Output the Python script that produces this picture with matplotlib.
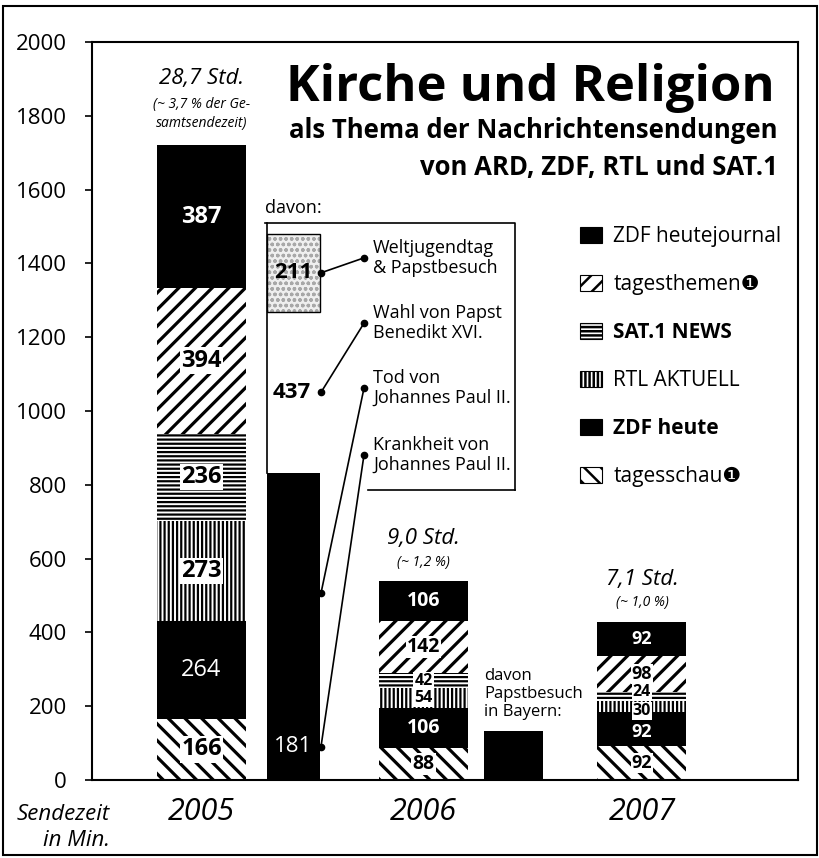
import numpy as np
import matplotlib
matplotlib.use('Agg')
import matplotlib.pyplot as plt
from matplotlib.patches import Rectangle

plt.rcParams['font.family'] = ['Open Sans', 'DejaVu Sans']
plt.rcParams['hatch.linewidth'] = 1.8

# Sendezeit in Minuten, von unten nach oben gestapelt
sendungen = ['tagesschau❶', 'ZDF heute', 'RTL AKTUELL', 'SAT.1 NEWS', 'tagesthemen❶', 'ZDF heutejournal']
jahre = ['2005', '2006', '2007']
minuten_2005 = [166, 264, 273, 236, 394, 387]
minuten_2006 = [88, 106, 54, 42, 142, 106]
minuten_2007 = [92, 92, 30, 24, 98, 92]
stunden = ['28,7 Std.', '9,0 Std.', '7,1 Std.']
anteile = ['(~ 3,7 % der Ge-\nsamtsendezeit)', '(~ 1,2 %)', '(~ 1,0 %)']

# davon 2005 (Papst-Themen), von unten nach oben
davon_themen = ['Krankheit von\nJohannes Paul II.', 'Tod von\nJohannes Paul II.',
                'Wahl von Papst\nBenedikt XVI.', 'Weltjugendtag\n& Papstbesuch']
davon_minuten = [181, 651, 437, 211]
davon_labels = ['181', '', '437', '211']
bayern_minuten = 133

# Aussehen je Sendung
farben = ['white', 'black', 'white', 'white', 'white', 'black']
muster = ['\\\\', None, '||||', '----', '//', None]
muster_lw = [2.3, 1.0, 1.6, 1.6, 2.3, 1.0]

# Schriftgrößen der Zahlen je Jahr, kleine Zahlen etwas auseinanderschieben (Punkte)
zahl_gross = [17, 14, 13]
versatz = {(2, 1): -2, (2, 2): -3, (2, 3): 3}

fig = plt.figure(figsize=(8.2, 8.58), dpi=100)
W, H = 820, 858


def fx(px):
    return px / W


def fy(py):
    return 1 - py / H


def dicke(patch, lw):
    if hasattr(patch, 'set_hatch_linewidth'):
        patch.set_hatch_linewidth(lw)


ax = fig.add_axes([fx(92), fy(780), 706 / W, 738 / H])
ax.set_xlim(92, 798)
ax.set_ylim(0, 2000)

x_jahr = [201.5, 423.5, 642]
breite = 89


def stapel(k, x, werte, gross):
    unten = 0
    for i, v in enumerate(werte):
        b = ax.bar(x, v, breite, bottom=unten, color=farben[i], hatch=muster[i],
                   edgecolor='black', linewidth=0)
        dicke(b.patches[0], muster_lw[i])
        mitte = unten + v / 2
        fs = gross if v >= 60 else 11.5
        dy = versatz.get((k, i), 0)
        if farben[i] == 'black':
            gewicht = 'normal' if (sendungen[i] == 'ZDF heute' and k == 0) else 'bold'
            ax.annotate(str(v), (x, mitte), xytext=(0, dy), textcoords='offset points',
                        ha='center', va='center', color='white', fontsize=fs, fontweight=gewicht)
        else:
            ax.annotate(str(v), (x, mitte), xytext=(0, dy), textcoords='offset points',
                        ha='center', va='center', color='black', fontsize=fs, fontweight='bold',
                        bbox=dict(boxstyle='square,pad=0.06', fc='white', ec='none'))
        unten += v
    return unten


alle = [minuten_2005, minuten_2006, minuten_2007]
for k, werte in enumerate(alle):
    oben = stapel(k, x_jahr[k], werte, zahl_gross[k])
    n = anteile[k].count('\n') + 1
    ax.annotate(anteile[k], xy=(x_jahr[k], oben), xytext=(0, 14 + 8.5 * (n - 1)),
                textcoords='offset points', ha='center', va='center',
                fontsize=10, style='italic', linespacing=1.35)
    ax.annotate(stunden[k], xy=(x_jahr[k], oben), xytext=(0, 31 + 17 * (n - 1)),
                textcoords='offset points', ha='center', va='center',
                fontsize=16, style='italic')

# davon-Säule 2005
x_davon, b_davon = 293.5, 53
davon_farben = ['black', 'black', 'white', '#efefef']
unten = 0
mitten = []
for i, v in enumerate(davon_minuten):
    if i == 3:
        b = ax.bar(x_davon, v, b_davon, bottom=unten, color=davon_farben[i], hatch='ooo',
                   edgecolor='#a8a8a8', linewidth=0)
        dicke(b.patches[0], 1.0)
        ax.bar(x_davon, v, b_davon, bottom=unten, fill=False, edgecolor='black', linewidth=1.0)
    else:
        ax.bar(x_davon, v, b_davon, bottom=unten, color=davon_farben[i], linewidth=0)
    mitten.append(unten + v / 2)
    unten += v

ax.text(x_davon, mitten[0], davon_labels[0], ha='center', va='center', color='white', fontsize=16)
ax.text(x_davon - 2, mitten[2], davon_labels[2], ha='center', va='center', fontsize=16, fontweight='bold')
ax.text(x_davon, mitten[3], davon_labels[3], ha='center', va='center', fontsize=16, fontweight='bold')

# Kasten um die Erläuterungen
links = x_davon - b_davon / 2
ax.plot([links - 2, 515, 515], [1509, 1509, 786], color='black', lw=1.2, clip_on=False)
ax.plot([368, 515], [786, 786], color='black', lw=1.2)
ax.plot([links, links], [1509, sum(davon_minuten[:2])], color='black', lw=1.2)
ax.text(265, 1550, 'davon:', ha='left', va='center', fontsize=13)

anker = [881, 1062, 1238, 1415]
for i, thema in enumerate(davon_themen):
    x0 = x_davon + b_davon / 2 + 1
    ax.plot([x0, 364], [mitten[i], anker[i]], color='black', lw=1.2,
            marker='o', markersize=4.5)
    ax.text(373, anker[i], thema, ha='left', va='center', fontsize=13, linespacing=1.15)

# Papstbesuch in Bayern (2006)
ax.bar(513.5, bayern_minuten, 59, color='black', linewidth=0)
ax.annotate('davon\nPapstbesuch\nin Bayern:', xy=(484, bayern_minuten), xytext=(0, 8),
            textcoords='offset points', ha='left', va='bottom', fontsize=12, linespacing=1.15)

# Achsen
ax.set_yticks(np.arange(0, 2001, 200))
ax.tick_params(axis='y', direction='out', length=5, width=1.2, labelsize=16, pad=13)
ax.set_xticks(x_jahr, jahre)
ax.tick_params(axis='x', length=0, labelsize=22, pad=12)
for t in ax.get_xticklabels():
    t.set_fontstyle('italic')
for s in ax.spines.values():
    s.set_linewidth(1.5)

fig.text(fx(110), fy(815), 'Sendezeit', ha='right', va='center', fontsize=16, style='italic')
fig.text(fx(110), fy(840), 'in Min.', ha='right', va='center', fontsize=16, style='italic')

# Titel
fig.text(fx(775), fy(101), 'Kirche und Religion', ha='right', va='baseline',
         fontsize=36.5, fontweight='bold')
fig.text(fx(778), fy(130), 'als Thema der Nachrichtensendungen', ha='right', va='center',
         fontsize=18.5, fontweight='bold')
fig.text(fx(778), fy(168), 'von ARD, ZDF, RTL und SAT.1', ha='right', va='center',
         fontsize=18.5, fontweight='bold')

# Legende (oben die letzte Sendung)
handles = []
for i in range(len(sendungen))[::-1]:
    r = Rectangle((0, 0), 1, 1, fc=farben[i], hatch=muster[i], ec='black', lw=0.8)
    dicke(r, muster_lw[i])
    handles.append(r)
leg = fig.legend(handles, sendungen[::-1], loc='upper left', bbox_to_anchor=(fx(580), fy(226)),
                 frameon=False, fontsize=15, handlelength=1.05, handleheight=0.8,
                 handletextpad=0.55, labelspacing=1.3, borderpad=0, borderaxespad=0)
for t in leg.get_texts():
    if t.get_text() in ('SAT.1 NEWS', 'ZDF heute'):
        t.set_fontweight('bold')

# Rahmen ums Bild
fig.patches.append(Rectangle((fx(3), fy(855)), fx(814), 849 / H, transform=fig.transFigure,
                             fill=False, ec='black', lw=1.5))

fig.savefig('out.png', dpi=100)
